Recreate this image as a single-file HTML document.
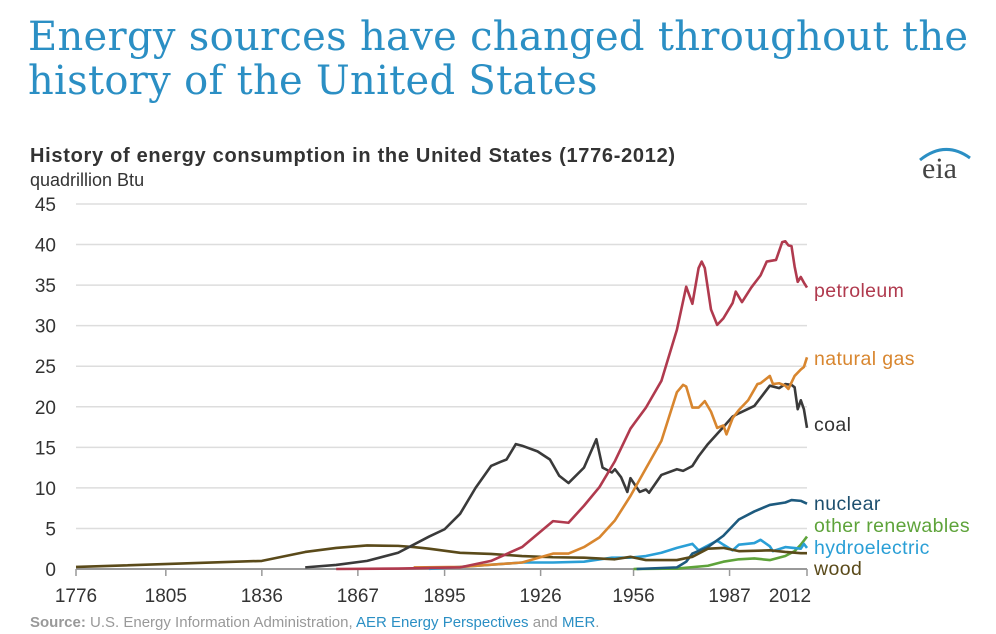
<!DOCTYPE html>
<html><head><meta charset="utf-8"><style>
body{margin:0;background:#fff;width:996px;height:634px;overflow:hidden;font-family:"Liberation Sans",sans-serif;}
#title{position:absolute;left:28px;top:15px;font-family:"DejaVu Serif","Liberation Serif",serif;font-size:40px;line-height:44px;color:#2b8fc4;letter-spacing:0.3px}
</style></head><body>
<div id="title">Energy sources have changed throughout the<br>history of the United States</div>
<svg id="chart" width="996" height="634" style="position:absolute;left:0;top:0">
<text x="30" y="162" font-size="20" font-weight="bold" fill="#333" letter-spacing="0.7">History of energy consumption in the United States (1776-2012)</text>
<text x="30" y="186" font-size="18" fill="#333">quadrillion Btu</text>
<g><text x="922" y="178" font-family="Liberation Serif,serif" font-size="30" fill="#444">eia</text><path d="M920 160 Q945 140 970 158" stroke="#2b8fc4" stroke-width="3" fill="none"/></g>
<g id="grid"></g><g id="series"></g><g id="labels"></g>
<text x="30" y="627" font-size="15" fill="#999"><tspan font-weight="bold">Source:</tspan> U.S. Energy Information Administration, <tspan fill="#2b8fc4">AER Energy Perspectives</tspan> and <tspan fill="#2b8fc4">MER</tspan>.</text>
</svg>
<script>
const yTicks=[0,5,10,15,20,25,30,35,40,45];
const xTicks=[1776,1805,1836,1867,1895,1926,1956,1987,2012];
const petroleumYears=[1860,1880,1900,1910,1920,1930,1935,1940,1945,1950,1955,1960,1965,1970,1973,1975,1977,1978,1979,1981,1983,1985,1988,1989,1991,1994,1997,1999,2002,2004,2005,2006,2007,2008,2009,2010,2011,2012];
const petroleumValues=[0,0.05,0.2,1,2.7,5.9,5.7,7.8,10.1,13.3,17.3,19.9,23.2,29.5,34.8,32.7,37.1,37.9,37.1,32,30.1,30.9,32.8,34.2,32.9,34.7,36.2,37.9,38.1,40.3,40.4,39.9,39.8,37.3,35.4,36,35.3,34.7];
const gasYears=[1885,1900,1920,1930,1935,1940,1945,1950,1955,1960,1965,1970,1972,1973,1975,1977,1979,1981,1983,1985,1986,1988,1990,1993,1996,1997,2000,2001,2003,2005,2006,2008,2010,2011,2012];
const gasValues=[0.2,0.25,0.8,1.9,1.9,2.7,3.9,6,9,12.4,15.8,21.8,22.7,22.5,19.9,19.9,20.7,19.4,17.4,17.7,16.6,18.6,19.6,20.8,22.8,22.9,23.8,22.8,22.9,22.6,22.2,23.8,24.6,24.9,26.1];
const coalYears=[1850,1860,1870,1880,1890,1895,1900,1905,1910,1913,1915,1918,1920,1925,1929,1932,1935,1940,1944,1946,1949,1950,1952,1954,1955,1958,1960,1961,1965,1970,1972,1975,1977,1980,1985,1988,1990,1995,2000,2003,2005,2007,2008,2009,2010,2011,2012];
const coalValues=[0.2,0.5,1,2,4,4.9,6.8,10,12.7,13.2,13.5,15.4,15.2,14.5,13.5,11.5,10.6,12.5,16,12.5,11.9,12.3,11.3,9.5,11.2,9.5,9.8,9.4,11.6,12.3,12.1,12.7,13.9,15.4,17.5,18.8,19.2,20.1,22.6,22.3,22.8,22.7,22.4,19.7,20.8,19.7,17.4];
const woodYears=[1776,1836,1850,1860,1870,1880,1885,1890,1900,1910,1920,1930,1940,1950,1955,1960,1970,1975,1980,1985,1990,2000,2005,2010,2012];
const woodValues=[0.25,1.0,2.1,2.6,2.9,2.85,2.7,2.5,2.0,1.86,1.6,1.45,1.4,1.2,1.5,1.1,1.1,1.5,2.5,2.6,2.2,2.3,2.1,1.95,1.95];
const hydroYears=[1890,1900,1920,1930,1940,1949,1955,1960,1965,1970,1975,1977,1980,1983,1985,1988,1990,1995,1997,2000,2001,2005,2010,2011,2012];
const hydroValues=[0.02,0.25,0.8,0.8,0.9,1.4,1.4,1.6,2.0,2.6,3.1,2.3,2.9,3.5,3.0,2.3,3.0,3.2,3.6,2.8,2.2,2.7,2.5,3.1,2.6];
const nuclearYears=[1957,1970,1973,1975,1980,1985,1990,1995,2000,2005,2007,2010,2012];
const nuclearValues=[0,0.2,0.9,1.9,2.7,4.1,6.1,7.1,7.9,8.2,8.5,8.4,8.05];
const otherYears=[1956,1970,1980,1985,1990,1995,2000,2005,2008,2010,2011,2012];
const otherValues=[0,0.05,0.4,0.9,1.2,1.3,1.1,1.6,2.2,3.0,3.5,4.0];
const NS='http://www.w3.org/2000/svg';
const X0=76,X1=807,Y0=569,Y1=204;
function xs(yr){return X0+(yr-1776)*(X1-X0)/(2012-1776);}
function ys(v){return Y0-v*(Y0-Y1)/45;}
function mk(tag,attrs,parent){const e=document.createElementNS(NS,tag);for(const k in attrs)e.setAttribute(k,attrs[k]);parent.appendChild(e);return e;}
const grid=document.getElementById('grid');
yTicks.forEach(t=>{
  const l=mk('line',{x1:X0,x2:X1,y1:ys(t),y2:ys(t),stroke:t===0?'#999':'#ddd','stroke-width':t===0?2:1.5},grid);
  
  
  const tx=mk('text',{x:56,y:ys(t)+7,'text-anchor':'end','font-size':19,fill:'#333'},grid);
  tx.textContent=t;
  
  
});
xTicks.forEach(t=>{
  const l=mk('line',{x1:xs(t),x2:xs(t),y1:Y0,y2:Y0+7,stroke:'#999','stroke-width':1.5},grid);
  
  
  const tx=mk('text',{x:t===2012?xs(t)-17:xs(t),y:602,'text-anchor':'middle','font-size':19,fill:'#333'},grid);
  tx.textContent=t;
  
  
});
const S=document.getElementById('series');
function line(years,vals,color,name){
  const p=mk('polyline',{points:years.map((y,i)=>xs(y)+','+ys(vals[i])).join(' '),fill:'none',stroke:color,'stroke-width':2.6,'stroke-linejoin':'round'},S);
  
  
}
line(otherYears,otherValues,'#5ea33a','other-renewables');
line(hydroYears,hydroValues,'#2a9fd6','hydroelectric');
line(nuclearYears,nuclearValues,'#1d5a7e','nuclear');
line(woodYears,woodValues,'#5a4a1a','wood');
line(coalYears,coalValues,'#3a3a3a','coal');
line(gasYears,gasValues,'#d8862f','natural-gas');
line(petroleumYears,petroleumValues,'#b03a4e','petroleum');
const L=document.getElementById('labels');
const labelText=['petroleum','natural gas','coal','nuclear','other renewables','hydroelectric','wood'];
const labelY=[297,365,431,510,532,554,575];
const labelColors=['#b03a4e','#d8862f','#333','#1d4f6e','#5ea33a','#2a9fd6','#5a4a1a'];
labelText.forEach((t,i)=>{
  const tx=mk('text',{x:814,y:labelY[i],'font-size':19.5,fill:labelColors[i],'letter-spacing':0.4},L);
  tx.textContent=t;
  
  
});
</script>
</body></html>
